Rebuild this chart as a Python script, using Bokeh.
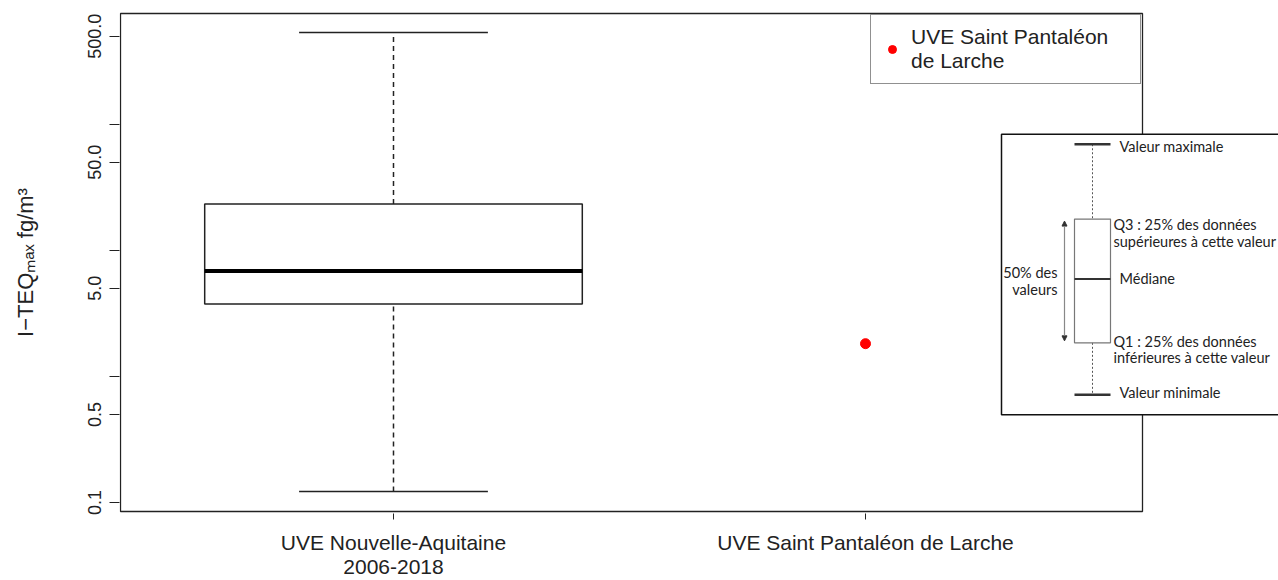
from bokeh.plotting import figure
from bokeh.models import (FixedTicker, PrintfTickFormatter, Range1d, LinearScale,
                          BoxAnnotation, Label, Arrow, NormalHead, Legend, LegendItem,
                          ColumnDataSource)
from bokeh.embed import file_html
from bokeh.resources import INLINE

# ---------------- data ----------------
categories = ["UVE Nouvelle-Aquitaine\n2006-2018", "UVE Saint Pantaléon de Larche"]
box_pos = [1]
whisker_low = [0.122]
q1 = [3.76]
median = [6.87]
q3 = [23.3]
whisker_high = [536.0]
point_pos = [2]
point_value = [1.82]
legend_label = "UVE Saint Pantaléon\nde Larche"
y_ticks = [0.1, 0.5, 5, 50, 500]
y_minor_ticks = [1, 10, 100]
y_title = "I\u2212TEQ\u2098\u2090\u2093 fg/m\u00b3"

inset_texts = ["Valeur maximale", "Q3 : 25% des données", "supérieures à cette valeur",
               "Médiane", "Q1 : 25% des données", "inférieures à cette valeur",
               "Valeur minimale"]
inset_side_texts = ["50% des", "valeurs"]

FONT = "Liberation Sans"
INK = "#222222"

p = figure(width=1278, height=580,
           x_range=Range1d(0.4195, 2.875), y_range=Range1d(0.0818, 786),
           y_axis_type="log", output_backend="svg", toolbar_location=None,
           min_border_left=119, min_border_right=0, min_border_top=11,
           min_border_bottom=66)
p.xgrid.visible = False
p.ygrid.visible = False
p.outline_line_color = None
p.background_fill_color = "white"
p.border_fill_color = "white"

# pixel-like helper ranges for decorations (frame spans page x 119..1278, y 11..514)
p.extra_x_ranges = {"px": Range1d(119, 1278)}
p.extra_y_ranges = {"px": Range1d(514, 11)}
p.extra_x_scales = {"px": LinearScale()}
p.extra_y_scales = {"px": LinearScale()}

# R-style plot box
p.add_layout(BoxAnnotation(left=120, right=1142, top=13, bottom=512,
                           x_range_name="px", y_range_name="px",
                           fill_alpha=0, line_color=INK, line_alpha=1, line_width=1.3))

# ---------------- box plot ----------------
half_box = 0.4
half_cap = 0.2
src = ColumnDataSource(dict(
    x=box_pos, lo=whisker_low, q1=q1, med=median, q3=q3, hi=whisker_high,
    left=[x - half_box for x in box_pos], right=[x + half_box for x in box_pos],
    cl=[x - half_cap for x in box_pos], cr=[x + half_cap for x in box_pos],
))
p.segment(x0="x", y0="q3", x1="x", y1="hi", source=src, line_color=INK,
          line_width=1.5, line_dash="5 4")
p.segment(x0="x", y0="lo", x1="x", y1="q1", source=src, line_color=INK,
          line_width=1.5, line_dash="5 4")
p.segment(x0="cl", y0="hi", x1="cr", y1="hi", source=src, line_color=INK, line_width=1.5)
p.segment(x0="cl", y0="lo", x1="cr", y1="lo", source=src, line_color=INK, line_width=1.5)
p.quad(left="left", right="right", top="q3", bottom="q1", source=src,
       fill_color="white", line_color=INK, line_width=1.5)
p.segment(x0="left", y0="med", x1="right", y1="med", source=src, line_color="black",
          line_width=4)

pt = p.scatter(x=point_pos, y=point_value, size=10, color="#ff0000")

# ---------------- axes ----------------
p.yaxis.ticker = FixedTicker(ticks=y_ticks, minor_ticks=y_minor_ticks)
p.yaxis.formatter = PrintfTickFormatter(format="%.1f")
p.yaxis.major_label_orientation = "vertical"
p.yaxis.axis_line_color = None
p.yaxis.major_tick_out = 10
p.yaxis.major_tick_in = 0
p.yaxis.minor_tick_out = 10
p.yaxis.minor_tick_in = 0
p.yaxis.major_tick_line_color = INK
p.yaxis.minor_tick_line_color = INK
p.yaxis.major_label_standoff = 8
p.yaxis.major_label_text_font = FONT
p.yaxis.major_label_text_font_size = "18px"
p.yaxis.major_label_text_color = INK
p.yaxis.axis_label = y_title
p.yaxis.axis_label_text_font = FONT
p.yaxis.axis_label_text_font_style = "normal"
p.yaxis.axis_label_text_font_size = "22px"
p.yaxis.axis_label_text_color = INK
p.yaxis.axis_label_standoff = 48

p.xaxis.ticker = FixedTicker(ticks=box_pos + point_pos)
p.xaxis.major_label_overrides = {box_pos[0]: categories[0], point_pos[0]: categories[1]}
p.xaxis.axis_line_color = None
p.xaxis.major_tick_out = 6
p.xaxis.major_tick_in = 0
p.xaxis.major_tick_line_color = INK
p.xaxis.major_label_standoff = 11
p.xaxis.major_label_text_font = FONT
p.xaxis.major_label_text_font_size = "21px"
p.xaxis.major_label_text_color = INK
p.xaxis.major_label_text_line_height = 1.05

# ---------------- legend ----------------
legend = Legend(items=[LegendItem(label=legend_label, renderers=[pt])],
                location=(751, 429), margin=0, padding=10, spacing=0,
                glyph_width=22, glyph_height=20, label_standoff=8, label_width=219,
                label_text_font=FONT, label_text_font_size="21px",
                label_text_color=INK, label_text_line_height=1.27,
                border_line_color=INK, border_line_width=1.3,
                background_fill_color="white", background_fill_alpha=1)
p.add_layout(legend)

# ---------------- explanatory inset ----------------
def px_line(x0, y0, x1, y1, color, width, dash="solid", start=None, end=None):
    p.add_layout(Arrow(x_start=x0, y_start=y0, x_end=x1, y_end=y1, start=start, end=end,
                       x_range_name="px", y_range_name="px",
                       line_color=color, line_width=width, line_dash=dash))

p.add_layout(BoxAnnotation(left=1001, right=1400, top=134, bottom=415,
                           x_range_name="px", y_range_name="px",
                           fill_color="white", fill_alpha=1,
                           line_color="#111111", line_alpha=1, line_width=1.5))
px_line(1092, 144, 1092, 219, "#555555", 1, "2 2")
px_line(1092, 343, 1092, 395, "#555555", 1, "2 2")
px_line(1074, 144, 1110, 144, "#333333", 2.5)
px_line(1074, 395, 1110, 395, "#333333", 2.5)
p.add_layout(BoxAnnotation(left=1074, right=1110, top=219, bottom=343,
                           x_range_name="px", y_range_name="px",
                           fill_alpha=0, line_color="#777777", line_alpha=1, line_width=1.2))
px_line(1074, 279, 1110, 279, "#333333", 2)
px_line(1064, 221, 1064, 341, "#888888", 1.2,
        start=NormalHead(size=5, fill_color="#333333", line_color="#333333"),
        end=NormalHead(size=5, fill_color="#333333", line_color="#333333"))

text_xy = [(1119, 146), (1113, 224), (1113, 241), (1119, 279), (1113, 342), (1113, 358), (1119, 393)]
for (tx, ty), t in zip(text_xy, inset_texts):
    p.add_layout(Label(x=tx, y=ty, text=t, x_range_name="px", y_range_name="px",
                       text_font="Lato", text_font_size="14.5px", text_color=INK,
                       text_align="left", text_baseline="middle"))
for (tx, ty), t in zip([(1057, 273), (1057, 290)], inset_side_texts):
    p.add_layout(Label(x=tx, y=ty, text=t, x_range_name="px", y_range_name="px",
                       text_font="Lato", text_font_size="14.5px", text_color=INK,
                       text_align="right", text_baseline="middle"))

open("out.html", "w").write(file_html(p, INLINE))
